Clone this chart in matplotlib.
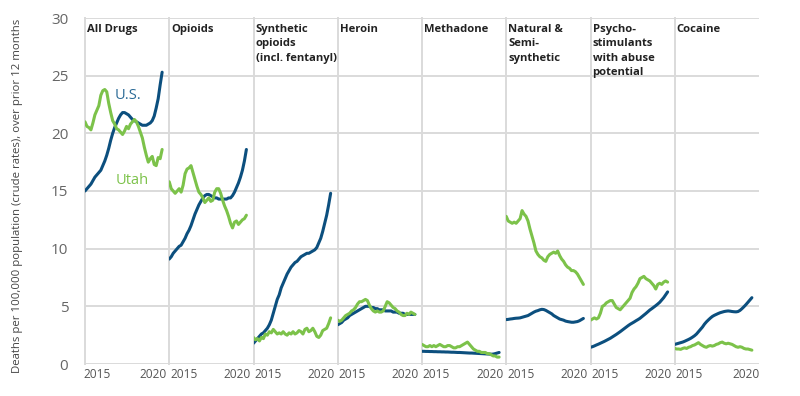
import matplotlib
matplotlib.use("Agg")
import matplotlib.pyplot as plt
import matplotlib.transforms as mtransforms
import numpy as np

# ---------------- data ----------------
# 12-month ending periods, every two months, Jan 2014 .. Jul 2020
periods = [2014 + k / 6 for k in range(40)]

panel_titles = ["All Drugs", "Opioids", "Synthetic\nopioids\n(incl. fentanyl)", "Heroin",
                "Methadone", "Natural &\nSemi-\nsynthetic", "Psycho-\nstimulants\nwith abuse\npotential",
                "Cocaine"]

us_all = [15.0, 15.2, 15.4, 15.6, 15.9, 16.2, 16.4, 16.6, 16.8, 17.2, 17.6, 18.1, 18.7, 19.4, 20.0, 20.5,
          20.9, 21.3, 21.6, 21.8, 21.8, 21.7, 21.6, 21.4, 21.2, 21.1, 21.0, 20.9, 20.8, 20.7, 20.7, 20.7,
          20.8, 20.9, 21.1, 21.5, 22.2, 23.0, 24.2, 25.3]
utah_all = [21.0, 20.6, 20.5, 20.3, 20.9, 21.6, 22.0, 22.4, 23.3, 23.7, 23.8, 23.6, 22.6, 21.8, 21.1, 20.8,
            20.4, 20.3, 20.1, 19.9, 20.2, 20.6, 20.4, 20.8, 21.0, 21.2, 21.0, 20.6, 20.1, 19.6, 18.8, 18.1,
            17.5, 17.8, 18.0, 17.3, 17.2, 17.9, 17.8, 18.6]

us_opioids = [9.1, 9.3, 9.6, 9.8, 10.0, 10.2, 10.3, 10.6, 10.9, 11.3, 11.6, 12.0, 12.5, 13.0, 13.4, 13.8,
              14.1, 14.4, 14.6, 14.7, 14.7, 14.6, 14.5, 14.4, 14.4, 14.3, 14.3, 14.3, 14.3, 14.3, 14.4, 14.4,
              14.6, 14.9, 15.3, 15.7, 16.2, 16.8, 17.6, 18.6]
utah_opioids = [15.8, 15.2, 15.0, 14.8, 15.0, 15.2, 14.9, 15.5, 16.5, 16.9, 17.0, 17.2, 16.6, 16.0, 15.4, 14.9,
                14.7, 14.4, 14.0, 14.2, 14.4, 14.1, 14.2, 14.9, 15.2, 15.2, 14.8, 14.2, 13.7, 13.3, 12.8, 12.2,
                11.8, 12.3, 12.4, 12.1, 12.3, 12.5, 12.6, 12.9]

us_synthetic = [1.8, 2.0, 2.2, 2.4, 2.6, 2.7, 2.9, 3.1, 3.4, 3.8, 4.4, 5.0, 5.6, 6.0, 6.6, 7.0,
                7.4, 7.8, 8.1, 8.4, 8.6, 8.8, 8.9, 9.1, 9.3, 9.4, 9.5, 9.6, 9.6, 9.7, 9.8, 9.9,
                10.1, 10.5, 10.9, 11.5, 12.2, 12.9, 13.8, 14.8]
utah_synthetic = [2.3, 2.1, 2.2, 2.0, 2.3, 2.2, 2.6, 2.5, 2.8, 2.7, 3.0, 2.8, 2.6, 2.7, 2.6, 2.8,
                  2.6, 2.5, 2.7, 2.6, 2.8, 2.6, 2.7, 2.9, 2.8, 2.6, 3.0, 3.1, 2.8, 2.9, 3.1, 2.8,
                  2.4, 2.3, 2.5, 2.9, 3.0, 3.1, 3.5, 4.0]

us_heroin = [3.4, 3.5, 3.6, 3.8, 3.9, 4.0, 4.2, 4.3, 4.4, 4.5, 4.6, 4.7, 4.8, 4.9, 5.0, 5.0,
             5.0, 4.9, 4.9, 4.8, 4.8, 4.7, 4.7, 4.7, 4.6, 4.6, 4.6, 4.6, 4.5, 4.5, 4.5, 4.4,
             4.4, 4.4, 4.3, 4.3, 4.3, 4.3, 4.3, 4.3]
utah_heroin = [3.8, 3.7, 3.8, 4.0, 4.2, 4.3, 4.4, 4.6, 4.7, 4.9, 5.2, 5.4, 5.4, 5.5, 5.6, 5.5,
               5.1, 4.8, 4.6, 4.5, 4.6, 4.5, 4.5, 4.6, 5.0, 5.4, 5.3, 5.1, 4.9, 4.8, 4.6, 4.5,
               4.3, 4.2, 4.2, 4.4, 4.3, 4.5, 4.4, 4.3]

us_methadone = [1.10, 1.10, 1.09, 1.09, 1.08, 1.08, 1.07, 1.07, 1.06, 1.06, 1.05, 1.05, 1.04, 1.04, 1.03, 1.02,
                1.02, 1.01, 1.00, 1.00, 0.99, 0.98, 0.97, 0.96, 0.95, 0.95, 0.94, 0.93, 0.92, 0.91, 0.90, 0.89,
                0.88, 0.87, 0.86, 0.85, 0.86, 0.90, 0.95, 1.00]
utah_methadone = [1.7, 1.6, 1.5, 1.5, 1.6, 1.5, 1.6, 1.5, 1.6, 1.7, 1.6, 1.5, 1.5, 1.6, 1.6, 1.5,
                  1.4, 1.4, 1.5, 1.5, 1.6, 1.7, 1.8, 1.9, 1.7, 1.5, 1.3, 1.2, 1.1, 1.1, 1.0, 1.0,
                  1.0, 0.9, 0.9, 0.8, 0.7, 0.7, 0.6, 0.6]

us_natural = [3.85, 3.87, 3.90, 3.92, 3.95, 3.97, 3.98, 4.00, 4.05, 4.10, 4.15, 4.20, 4.30, 4.40, 4.50, 4.58,
              4.63, 4.70, 4.74, 4.72, 4.65, 4.55, 4.45, 4.35, 4.20, 4.10, 4.00, 3.90, 3.85, 3.80, 3.72, 3.68,
              3.65, 3.62, 3.62, 3.65, 3.68, 3.75, 3.85, 3.95]
utah_natural = [12.8, 12.4, 12.3, 12.2, 12.3, 12.2, 12.4, 12.6, 13.3, 13.0, 12.8, 12.4, 11.7, 11.1, 10.5, 9.8,
                9.5, 9.3, 9.2, 9.0, 8.9, 9.3, 9.5, 9.6, 9.7, 9.6, 9.8, 9.4, 9.1, 8.9, 8.6, 8.4,
                8.3, 8.1, 8.1, 8.0, 7.8, 7.5, 7.2, 6.9]

us_psycho = [1.45, 1.50, 1.57, 1.65, 1.72, 1.80, 1.88, 1.96, 2.05, 2.14, 2.23, 2.34, 2.45, 2.56, 2.68, 2.80,
             2.93, 3.06, 3.19, 3.32, 3.44, 3.54, 3.64, 3.75, 3.85, 3.96, 4.10, 4.24, 4.38, 4.53, 4.68, 4.80,
             4.93, 5.06, 5.20, 5.35, 5.55, 5.75, 6.00, 6.25]
utah_psycho = [3.8, 3.9, 4.0, 3.9, 4.0, 4.4, 5.0, 5.1, 5.3, 5.4, 5.5, 5.5, 5.2, 4.9, 4.8, 4.7,
               4.9, 5.1, 5.3, 5.5, 5.7, 6.2, 6.5, 6.7, 7.0, 7.4, 7.5, 7.6, 7.4, 7.3, 7.2, 7.0,
               6.8, 6.5, 6.9, 7.0, 6.9, 7.1, 7.2, 7.1]

us_cocaine = [1.70, 1.75, 1.80, 1.85, 1.90, 1.97, 2.05, 2.13, 2.22, 2.33, 2.45, 2.60, 2.80, 3.00, 3.20, 3.45,
              3.65, 3.82, 3.98, 4.12, 4.22, 4.30, 4.38, 4.45, 4.50, 4.55, 4.58, 4.60, 4.58, 4.55, 4.53, 4.52,
              4.55, 4.65, 4.80, 4.97, 5.15, 5.35, 5.55, 5.75]
utah_cocaine = [1.35, 1.30, 1.30, 1.27, 1.35, 1.40, 1.35, 1.45, 1.50, 1.60, 1.65, 1.75, 1.85, 1.70, 1.60, 1.50,
                1.45, 1.55, 1.60, 1.55, 1.60, 1.70, 1.75, 1.85, 1.90, 1.80, 1.75, 1.80, 1.75, 1.70, 1.60, 1.50,
                1.45, 1.50, 1.45, 1.35, 1.30, 1.30, 1.25, 1.20]

us_series = [us_all, us_opioids, us_synthetic, us_heroin, us_methadone, us_natural, us_psycho, us_cocaine]
utah_series = [utah_all, utah_opioids, utah_synthetic, utah_heroin, utah_methadone, utah_natural,
               utah_psycho, utah_cocaine]

y_ticks = [0, 5, 10, 15, 20, 25, 30]
x_ticks = [2015, 2020]
x_tick_labels = ["2015", "2020"]
y_label = "Deaths per 100,000 population (crude rates), over prior 12 months"

# ---------------- style ----------------
US_COLOR = "#0c4f7e"
UTAH_COLOR = "#7cc24a"
GRID = "#dadada"
FONT = ["Open Sans", "DejaVu Sans"]
plt.rcParams["font.family"] = FONT

W, H = 800, 396
fig = plt.figure(figsize=(W / 100, H / 100), dpi=100)
fig.subplots_adjust(left=85 / W, right=759 / W, top=1 - 18 / H, bottom=1 - 364 / H, wspace=0)
axes = fig.subplots(1, 8, sharey=True)
n = len(axes)

for i, ax in enumerate(axes):
    ax.set_xlim(2014, 2021.1)
    ax.set_ylim(0, 30)
    ax.set_yticks(y_ticks)
    ax.set_xticks(x_ticks)
    ax.set_xticklabels(x_tick_labels)
    ax.grid(axis="y", color=GRID, linewidth=1.4, zorder=0)
    ax.set_axisbelow(True)
    for s in ["top", "right", "bottom"]:
        ax.spines[s].set_visible(False)
    ax.spines["left"].set_color(GRID)
    ax.spines["left"].set_linewidth(1.4)
    ax.tick_params(axis="both", length=0, labelsize=8.6, labelcolor="#555555")
    ax.tick_params(axis="x", pad=3)
    # nudge tick labels apart so neighbouring panels' labels do not touch
    labels = ax.get_xticklabels()
    if i > 0:
        labels[0].set_transform(labels[0].get_transform() +
                                mtransforms.ScaledTranslation(2.5 / 100, 0, fig.dpi_scale_trans))
    if i < n - 1:
        labels[1].set_transform(labels[1].get_transform() +
                                mtransforms.ScaledTranslation(-3.5 / 100, 0, fig.dpi_scale_trans))
    ax.plot(periods, us_series[i], color=US_COLOR, linewidth=2.2, zorder=3, solid_capstyle="round")
    ax.plot(periods, utah_series[i], color=UTAH_COLOR, linewidth=2.2, zorder=3, solid_capstyle="round")
    ax.text(0.025, 0.982, panel_titles[i], transform=ax.transAxes, ha="left", va="top",
            fontsize=8.1, fontweight="bold", color="#222222", linespacing=1.4, zorder=5)

axes[0].tick_params(axis="y", labelsize=11, labelcolor="#666666", pad=12)
axes[0].text(2017.6, 23.3, "U.S.", color="#2a6a96", fontsize=10.5, ha="center", va="center")
axes[0].text(2018.0, 15.9, "Utah", color=UTAH_COLOR, fontsize=10.5, ha="center", va="center")
fig.text(18 / W, 1 - 196 / H, y_label, rotation=90, ha="center", va="center", fontsize=8.2, color="#444444")

fig.savefig("out.png", dpi=100)
